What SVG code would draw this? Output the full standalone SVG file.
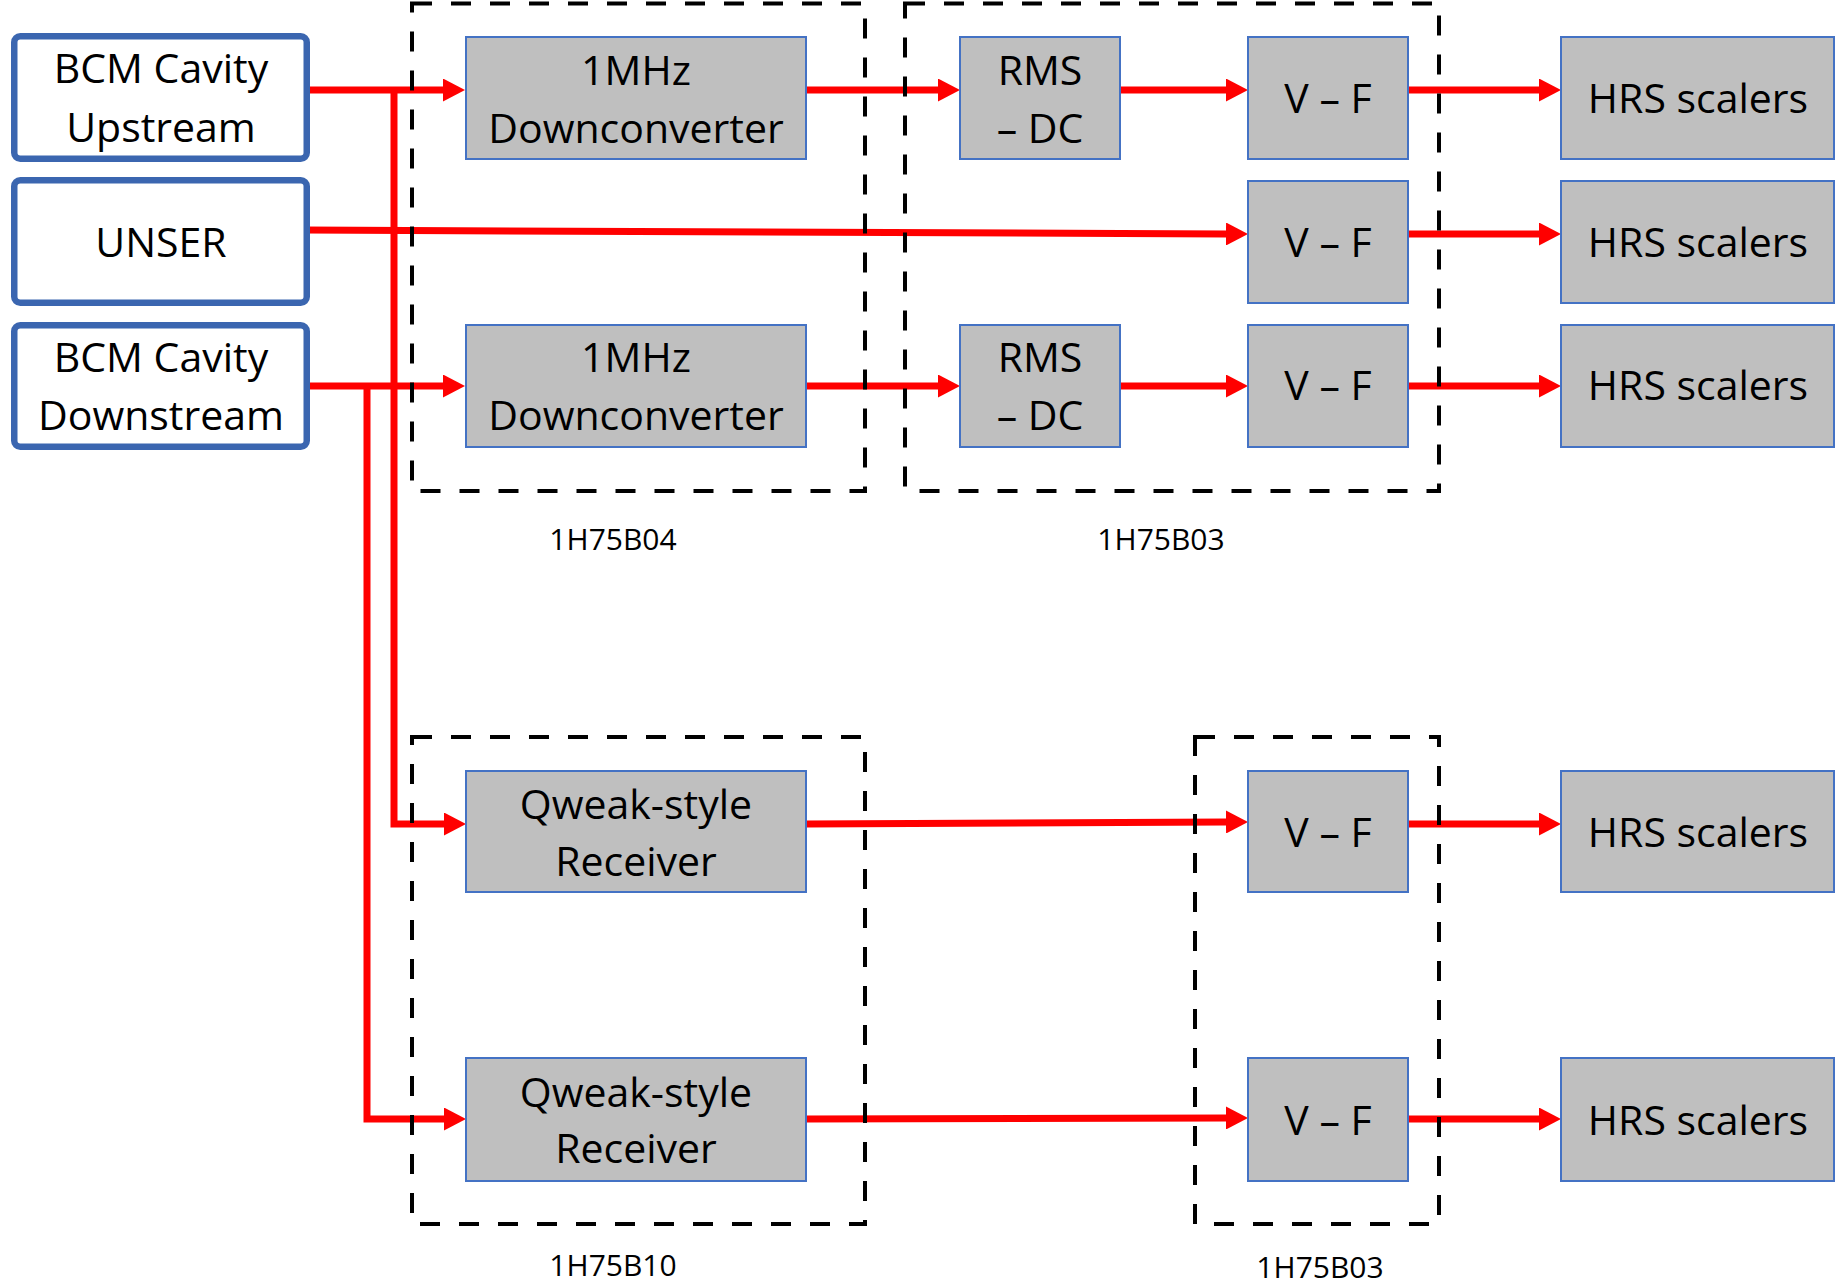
<svg xmlns="http://www.w3.org/2000/svg" width="1837" height="1285" viewBox="0 0 1837 1285">
<defs>
<marker id="ah" markerUnits="userSpaceOnUse" markerWidth="22" markerHeight="23" viewBox="0 0 22 23" refX="0" refY="11.5" orient="auto">
<path d="M0,0 L22,11.5 L0,23 z" fill="#FF0000"/>
</marker>
<style>
.src{fill:#FFFFFF;stroke:#3B66B0;stroke-width:6.5}
.blk{fill:#BFBFBF;stroke:#4472C4;stroke-width:2}
.t{font-family:"Open Sans","Noto Sans",sans-serif;font-size:41px;fill:#000;text-anchor:middle}
.lbl{font-family:"Open Sans","Noto Sans",sans-serif;font-size:30px;fill:#000;text-anchor:middle}
.w{fill:none;stroke:#FF0000;stroke-width:7;marker-end:url(#ah)}
.grp{fill:none;stroke:#000;stroke-width:4;stroke-dasharray:20 19}
</style>
</defs>
<rect width="1837" height="1285" fill="#FFFFFF"/>

<g id="connectors">
<line class="w" x1="307" y1="90" x2="443" y2="90"/>
<path class="w" d="M394,90 V824 H444"/>
<line class="w" x1="305" y1="230" x2="1226" y2="234"/>
<line class="w" x1="307" y1="386" x2="443" y2="386"/>
<path class="w" d="M367,386 V1119 H444"/>
<line class="w" x1="806" y1="90" x2="938" y2="90"/>
<line class="w" x1="1120" y1="90" x2="1226" y2="90"/>
<line class="w" x1="1408" y1="90" x2="1539" y2="90"/>
<line class="w" x1="1408" y1="234" x2="1539" y2="234"/>
<line class="w" x1="806" y1="386" x2="938" y2="386"/>
<line class="w" x1="1120" y1="386" x2="1226" y2="386"/>
<line class="w" x1="1408" y1="386" x2="1539" y2="386"/>
<line class="w" x1="806" y1="824" x2="1226" y2="822"/>
<line class="w" x1="1408" y1="824" x2="1539" y2="824"/>
<line class="w" x1="806" y1="1119" x2="1226" y2="1118"/>
<line class="w" x1="1408" y1="1119" x2="1539" y2="1119"/>
</g>

<g id="group-1H75B04">
<rect class="grp" x="412" y="3.5" width="453" height="487.5"/>
<text class="lbl" x="613" y="550">1H75B04</text>
</g>
<g id="group-1H75B03-top">
<rect class="grp" x="905" y="3.5" width="534" height="487.5"/>
<text class="lbl" x="1161" y="550">1H75B03</text>
</g>
<g id="group-1H75B10">
<rect class="grp" x="412" y="737" width="453" height="487"/>
<text class="lbl" x="613" y="1276">1H75B10</text>
</g>
<g id="group-1H75B03-bottom">
<rect class="grp" x="1195" y="737" width="244" height="487"/>
<text class="lbl" x="1320" y="1278">1H75B03</text>
</g>

<g id="bcm-upstream">
<rect class="src" x="14.25" y="36.25" width="292.5" height="122.5" rx="6"/>
<text class="t" x="161" y="83">BCM Cavity</text>
<text class="t" x="161" y="142">Upstream</text>
</g>
<g id="unser">
<rect class="src" x="14.25" y="180.25" width="292.5" height="122.5" rx="6"/>
<text class="t" x="161" y="257">UNSER</text>
</g>
<g id="bcm-downstream">
<rect class="src" x="14.25" y="325.25" width="292.5" height="121.5" rx="6"/>
<text class="t" x="161" y="372">BCM Cavity</text>
<text class="t" x="161" y="430">Downstream</text>
</g>

<g id="downconverter-1">
<rect class="blk" x="466" y="37" width="340" height="122"/>
<text class="t" x="636" y="85">1MHz</text>
<text class="t" x="636" y="143">Downconverter</text>
</g>
<g id="downconverter-2">
<rect class="blk" x="466" y="325" width="340" height="122"/>
<text class="t" x="636" y="372">1MHz</text>
<text class="t" x="636" y="430">Downconverter</text>
</g>
<g id="rmsdc-1">
<rect class="blk" x="960" y="37" width="160" height="122"/>
<text class="t" x="1040" y="85">RMS</text>
<text class="t" x="1040" y="143">– DC</text>
</g>
<g id="rmsdc-2">
<rect class="blk" x="960" y="325" width="160" height="122"/>
<text class="t" x="1040" y="372">RMS</text>
<text class="t" x="1040" y="430">– DC</text>
</g>
<g id="qweak-1">
<rect class="blk" x="466" y="771" width="340" height="121"/>
<text class="t" x="636" y="819">Qweak-style</text>
<text class="t" x="636" y="876">Receiver</text>
</g>
<g id="qweak-2">
<rect class="blk" x="466" y="1058" width="340" height="123"/>
<text class="t" x="636" y="1107">Qweak-style</text>
<text class="t" x="636" y="1163">Receiver</text>
</g>

<g id="vf-1"><rect class="blk" x="1248" y="37" width="160" height="122"/><text class="t" x="1328" y="113">V – F</text></g>
<g id="vf-2"><rect class="blk" x="1248" y="181" width="160" height="122"/><text class="t" x="1328" y="257">V – F</text></g>
<g id="vf-3"><rect class="blk" x="1248" y="325" width="160" height="122"/><text class="t" x="1328" y="400">V – F</text></g>
<g id="vf-4"><rect class="blk" x="1248" y="771" width="160" height="121"/><text class="t" x="1328" y="847">V – F</text></g>
<g id="vf-5"><rect class="blk" x="1248" y="1058" width="160" height="123"/><text class="t" x="1328" y="1135">V – F</text></g>

<g id="hrs-1"><rect class="blk" x="1561" y="37" width="273" height="122"/><text class="t" x="1698" y="113">HRS scalers</text></g>
<g id="hrs-2"><rect class="blk" x="1561" y="181" width="273" height="122"/><text class="t" x="1698" y="257">HRS scalers</text></g>
<g id="hrs-3"><rect class="blk" x="1561" y="325" width="273" height="122"/><text class="t" x="1698" y="400">HRS scalers</text></g>
<g id="hrs-4"><rect class="blk" x="1561" y="771" width="273" height="121"/><text class="t" x="1698" y="847">HRS scalers</text></g>
<g id="hrs-5"><rect class="blk" x="1561" y="1058" width="273" height="123"/><text class="t" x="1698" y="1135">HRS scalers</text></g>
</svg>
